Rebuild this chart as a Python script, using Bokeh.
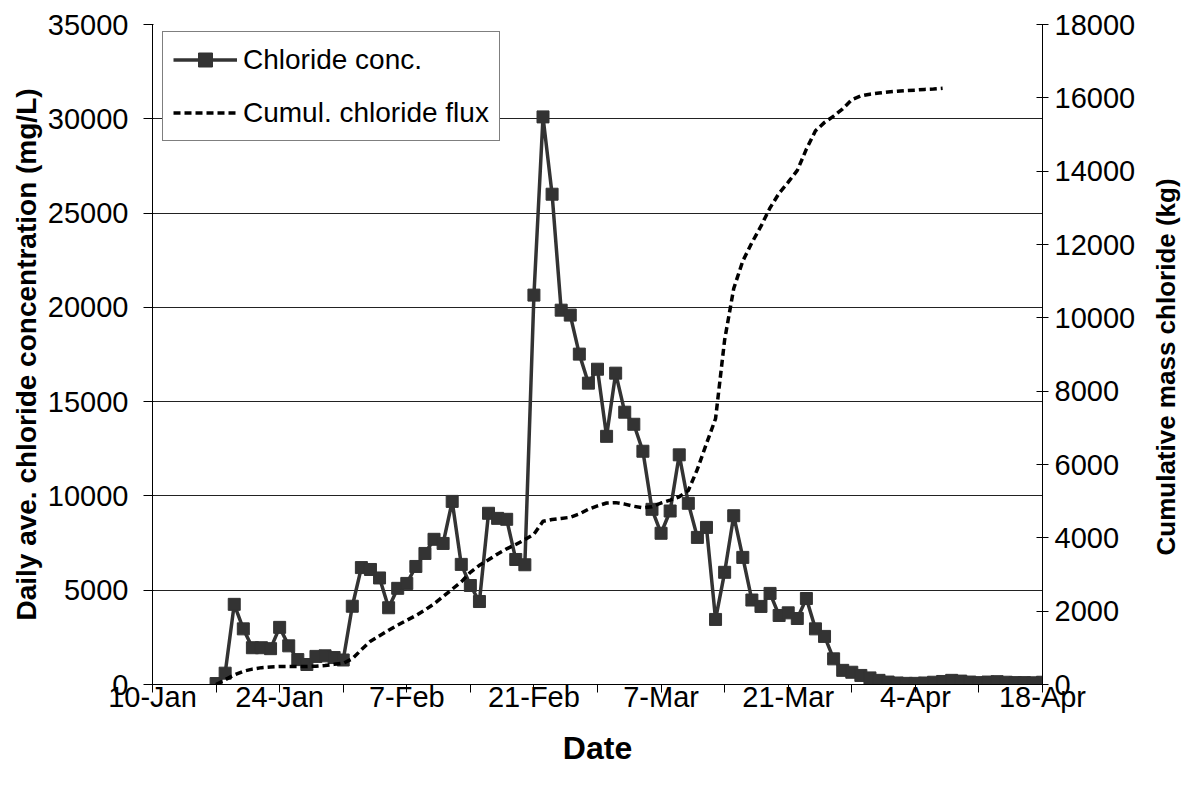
import pandas as pd
from bokeh.plotting import figure
from bokeh.layouts import row
from bokeh.models import Range1d, LinearAxis, FixedTicker, Legend, LegendItem, Title
from bokeh.embed import file_html
from bokeh.resources import INLINE

YEAR = "2005"
axis_start = "10-Jan"
axis_end = "18-Apr"
tick_labels = ["10-Jan", "24-Jan", "7-Feb", "21-Feb", "7-Mar", "21-Mar", "4-Apr", "18-Apr"]

# Daily average chloride concentration (mg/L), daily from 17-Jan to 18-Apr
conc_first, conc_last = "17-Jan", "18-Apr"
conc_values = [
    50, 600, 4250, 2950, 1950, 1950, 1900, 3030, 2050, 1320, 1060, 1490, 1520, 1430, 1300,
    4150, 6200, 6100, 5650, 4070, 5100, 5360, 6260, 6950, 7700, 7480, 9710, 6370, 5250,
    4400, 9080, 8810, 8760, 6630, 6350, 20650, 30100, 26000, 19850, 19590, 17520, 15980, 16720,
    13160, 16510, 14440, 13800, 12370, 9290, 8020, 9200, 12180, 9610, 7800, 8330, 3450, 5950,
    8950, 6740, 4480, 4140, 4830, 3660, 3800, 3500, 4560, 2950, 2550, 1360, 750, 650,
    480, 350, 220, 130, 80, 60, 60, 80, 120, 160, 220, 180, 130, 100,
    130, 150, 120, 100, 100, 90, 120,
]

# Cumulative chloride mass (kg), daily from 17-Jan to 7-Apr
flux_first, flux_last = "17-Jan", "7-Apr"
flux_values = [
    0, 130, 260, 360, 420, 460, 480, 490, 490, 490, 490, 500, 520, 550, 580,
    700, 950, 1180, 1330, 1480, 1620, 1750, 1880, 2030, 2200, 2400, 2600, 2800, 3060,
    3250, 3400, 3560, 3700, 3820, 3950, 4100, 4450, 4500, 4530, 4560, 4650, 4780, 4870,
    4950, 4960, 4920, 4860, 4820, 4850, 4950, 5030, 5120, 5290, 5870, 6570, 7250, 9400,
    10800, 11550, 12050, 12500, 13000, 13400, 13700, 14020, 14600, 15100, 15330, 15500, 15700, 15950,
    16050, 16100, 16130, 16160, 16180, 16200, 16210, 16230, 16240, 16260,
]

left_ticks = [0, 5000, 10000, 15000, 20000, 25000, 30000, 35000]
right_ticks = [0, 2000, 4000, 6000, 8000, 10000, 12000, 14000, 16000, 18000]


def to_date(s):
    return pd.to_datetime(s + "-" + YEAR, format="%d-%b-%Y")


t0 = to_date(axis_start)


def day_of(s):
    return (to_date(s) - t0).days


conc_x = [(d - t0).days for d in pd.date_range(to_date(conc_first), to_date(conc_last), freq="D")]
flux_x = [(d - t0).days for d in pd.date_range(to_date(flux_first), to_date(flux_last), freq="D")]
assert len(conc_x) == len(conc_values)
assert len(flux_x) == len(flux_values)

major_days = [day_of(s) for s in tick_labels]
minor_days = list(range(0, day_of(axis_end) + 1, 7))

FONT = "Liberation Sans"
W, H = 1148, 788
FL, FR, FT, FB = 152, 1042, 24, 684

p = figure(width=W, height=H, output_backend="svg", toolbar_location=None,
           x_range=Range1d(0, day_of(axis_end)), y_range=Range1d(0, 35000),
           min_border_left=FL, min_border_right=W - FR, min_border_top=FT,
           min_border_bottom=H - FB)
p.outline_line_color = None
p.background_fill_color = "white"
p.border_fill_color = "white"
p.extra_y_ranges = {"flux": Range1d(0, 18000)}

# x axis
xa = p.xaxis[0]
xa.ticker = FixedTicker(ticks=major_days, minor_ticks=minor_days)
xa.major_label_overrides = {d: lab for d, lab in zip(major_days, tick_labels)}
xa.major_tick_out = 0
xa.major_tick_in = 0
xa.minor_tick_out = 8
xa.minor_tick_in = 0
xa.minor_tick_line_color = "black"
xa.axis_line_color = "black"
xa.major_label_standoff = -12
xa.major_label_text_font = FONT
xa.major_label_text_font_size = "29px"
xa.major_label_text_color = "black"
xa.axis_label = "Date"
xa.axis_label_text_font = FONT
xa.axis_label_text_font_style = "bold"
xa.axis_label_text_font_size = "32px"
xa.axis_label_text_color = "black"
xa.axis_label_standoff = 14

# left axis
ya = p.yaxis[0]
ya.ticker = FixedTicker(ticks=left_ticks)
ya.minor_tick_line_color = None
ya.major_tick_out = 9
ya.major_tick_in = 1
ya.major_tick_line_color = "black"
ya.axis_line_color = "black"
ya.major_label_standoff = 15
ya.major_label_text_font = FONT
ya.major_label_text_font_size = "29px"
ya.major_label_text_color = "black"
ya.axis_label = "Daily ave. chloride concentration (mg/L)"
ya.axis_label_text_font = FONT
ya.axis_label_text_font_style = "bold"
ya.axis_label_text_font_size = "28px"
ya.axis_label_text_color = "black"
ya.axis_label_standoff = 3

# right axis
ra = LinearAxis(y_range_name="flux", ticker=FixedTicker(ticks=right_ticks))
ra.minor_tick_line_color = None
ra.major_tick_out = 6
ra.major_tick_in = 6
ra.major_tick_line_color = "black"
ra.axis_line_color = "black"
ra.major_label_standoff = 6
ra.major_label_text_font = FONT
ra.major_label_text_font_size = "29px"
ra.major_label_text_color = "black"
p.add_layout(ra, "right")

p.xgrid.grid_line_color = None
p.ygrid.grid_line_color = "#222222"
p.ygrid.grid_line_width = 1
p.ygrid.ticker = FixedTicker(ticks=left_ticks)

conc_color = "#333333"
l1 = p.line(conc_x, conc_values, line_color=conc_color, line_width=3.5)
s1 = p.scatter(conc_x, conc_values, marker="square", size=12,
               fill_color=conc_color, line_color=conc_color)
l2 = p.line(flux_x, flux_values, y_range_name="flux", line_color="black",
            line_width=3.5, line_dash="7 4")

legend = Legend(items=[LegendItem(label="Chloride conc.", renderers=[l1, s1]),
                       LegendItem(label="Cumul. chloride flux", renderers=[l2])],
                location=(10, 543))
legend.label_text_font = FONT
legend.label_text_font_size = "28px"
legend.label_text_color = "black"
legend.border_line_color = "black"
legend.border_line_width = 1
legend.background_fill_color = "white"
legend.background_fill_alpha = 1
legend.padding = 10
legend.spacing = 18
legend.label_height = 35
legend.glyph_height = 35
legend.glyph_width = 64
legend.label_standoff = 6
legend.margin = 0
p.add_layout(legend)

# Secondary-axis title, drawn in a narrow strip to the right (reads bottom-to-top)
W2 = 33
p2 = figure(width=W2, height=H, output_backend="svg", toolbar_location=None,
            x_range=Range1d(0, 1), y_range=Range1d(0, 1),
            x_axis_location=None, y_axis_location=None,
            min_border_left=0, min_border_right=0, min_border_top=FT,
            min_border_bottom=H - FB)
p2.outline_line_color = None
p2.grid.visible = False
p2.background_fill_color = "white"
p2.border_fill_color = "white"
p2.add_layout(Title(text="Cumulative mass chloride (kg)", align="left", offset=129,
                    text_font=FONT, text_font_style="bold", text_font_size="26px",
                    text_color="black", standoff=0), "left")

layout = row(p, p2, spacing=0)
open("out.html", "w").write(file_html(layout, INLINE))
